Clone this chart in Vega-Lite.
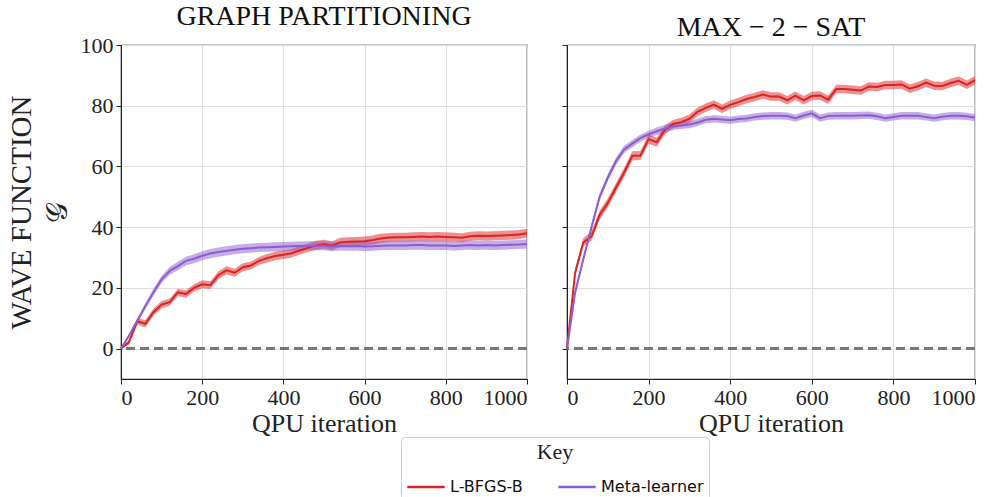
{
  "$schema": "https://vega.github.io/schema/vega-lite/v6.json",
  "padding": {"left": 6, "top": 2, "right": 20, "bottom": 0},
  "background": "white",
  "datasets": {
    "curves": [
      {"task":"GP","method":"L-BFGS-B","iter":0,"value":0,"err":0},
      {"task":"GP","method":"L-BFGS-B","iter":20,"value":2.2,"err":0.8},
      {"task":"GP","method":"L-BFGS-B","iter":40,"value":9.0,"err":1.1},
      {"task":"GP","method":"L-BFGS-B","iter":60,"value":8.2,"err":1.2},
      {"task":"GP","method":"L-BFGS-B","iter":80,"value":12.0,"err":1.2},
      {"task":"GP","method":"L-BFGS-B","iter":100,"value":14.5,"err":1.2},
      {"task":"GP","method":"L-BFGS-B","iter":120,"value":15.3,"err":1.2},
      {"task":"GP","method":"L-BFGS-B","iter":140,"value":18.5,"err":1.2},
      {"task":"GP","method":"L-BFGS-B","iter":160,"value":18.0,"err":1.2},
      {"task":"GP","method":"L-BFGS-B","iter":180,"value":20.0,"err":1.2},
      {"task":"GP","method":"L-BFGS-B","iter":200,"value":21.2,"err":1.3},
      {"task":"GP","method":"L-BFGS-B","iter":220,"value":20.9,"err":1.3},
      {"task":"GP","method":"L-BFGS-B","iter":240,"value":24.2,"err":1.3},
      {"task":"GP","method":"L-BFGS-B","iter":260,"value":25.8,"err":1.3},
      {"task":"GP","method":"L-BFGS-B","iter":280,"value":25.0,"err":1.3},
      {"task":"GP","method":"L-BFGS-B","iter":300,"value":26.8,"err":1.3},
      {"task":"GP","method":"L-BFGS-B","iter":320,"value":27.4,"err":1.3},
      {"task":"GP","method":"L-BFGS-B","iter":340,"value":28.9,"err":1.3},
      {"task":"GP","method":"L-BFGS-B","iter":360,"value":29.8,"err":1.4},
      {"task":"GP","method":"L-BFGS-B","iter":380,"value":30.5,"err":1.4},
      {"task":"GP","method":"L-BFGS-B","iter":400,"value":30.9,"err":1.4},
      {"task":"GP","method":"L-BFGS-B","iter":420,"value":31.4,"err":1.4},
      {"task":"GP","method":"L-BFGS-B","iter":440,"value":32.3,"err":1.4},
      {"task":"GP","method":"L-BFGS-B","iter":460,"value":33.2,"err":1.4},
      {"task":"GP","method":"L-BFGS-B","iter":480,"value":34.0,"err":1.5},
      {"task":"GP","method":"L-BFGS-B","iter":500,"value":34.4,"err":1.5},
      {"task":"GP","method":"L-BFGS-B","iter":520,"value":33.9,"err":1.5},
      {"task":"GP","method":"L-BFGS-B","iter":540,"value":35.0,"err":1.5},
      {"task":"GP","method":"L-BFGS-B","iter":560,"value":35.2,"err":1.5},
      {"task":"GP","method":"L-BFGS-B","iter":580,"value":35.3,"err":1.5},
      {"task":"GP","method":"L-BFGS-B","iter":600,"value":35.4,"err":1.5},
      {"task":"GP","method":"L-BFGS-B","iter":620,"value":35.8,"err":1.5},
      {"task":"GP","method":"L-BFGS-B","iter":640,"value":36.3,"err":1.5},
      {"task":"GP","method":"L-BFGS-B","iter":660,"value":36.6,"err":1.5},
      {"task":"GP","method":"L-BFGS-B","iter":680,"value":36.7,"err":1.5},
      {"task":"GP","method":"L-BFGS-B","iter":700,"value":36.7,"err":1.5},
      {"task":"GP","method":"L-BFGS-B","iter":720,"value":36.8,"err":1.5},
      {"task":"GP","method":"L-BFGS-B","iter":740,"value":36.9,"err":1.5},
      {"task":"GP","method":"L-BFGS-B","iter":760,"value":36.8,"err":1.5},
      {"task":"GP","method":"L-BFGS-B","iter":780,"value":36.9,"err":1.5},
      {"task":"GP","method":"L-BFGS-B","iter":800,"value":36.8,"err":1.5},
      {"task":"GP","method":"L-BFGS-B","iter":820,"value":36.7,"err":1.5},
      {"task":"GP","method":"L-BFGS-B","iter":840,"value":36.5,"err":1.5},
      {"task":"GP","method":"L-BFGS-B","iter":860,"value":37.0,"err":1.5},
      {"task":"GP","method":"L-BFGS-B","iter":880,"value":37.2,"err":1.5},
      {"task":"GP","method":"L-BFGS-B","iter":900,"value":37.1,"err":1.5},
      {"task":"GP","method":"L-BFGS-B","iter":920,"value":37.2,"err":1.5},
      {"task":"GP","method":"L-BFGS-B","iter":940,"value":37.3,"err":1.5},
      {"task":"GP","method":"L-BFGS-B","iter":960,"value":37.4,"err":1.5},
      {"task":"GP","method":"L-BFGS-B","iter":980,"value":37.6,"err":1.5},
      {"task":"GP","method":"L-BFGS-B","iter":1000,"value":38.0,"err":1.5},
      {"task":"GP","method":"Meta-learner","iter":0,"value":0,"err":0},
      {"task":"GP","method":"Meta-learner","iter":20,"value":4.3,"err":0.6},
      {"task":"GP","method":"Meta-learner","iter":40,"value":9.2,"err":0.8},
      {"task":"GP","method":"Meta-learner","iter":60,"value":14.0,"err":1.0},
      {"task":"GP","method":"Meta-learner","iter":80,"value":18.6,"err":1.1},
      {"task":"GP","method":"Meta-learner","iter":100,"value":22.8,"err":1.2},
      {"task":"GP","method":"Meta-learner","iter":120,"value":25.6,"err":1.3},
      {"task":"GP","method":"Meta-learner","iter":140,"value":27.2,"err":1.4},
      {"task":"GP","method":"Meta-learner","iter":160,"value":28.9,"err":1.4},
      {"task":"GP","method":"Meta-learner","iter":180,"value":29.6,"err":1.5},
      {"task":"GP","method":"Meta-learner","iter":200,"value":30.6,"err":1.5},
      {"task":"GP","method":"Meta-learner","iter":220,"value":31.3,"err":1.5},
      {"task":"GP","method":"Meta-learner","iter":240,"value":31.8,"err":1.5},
      {"task":"GP","method":"Meta-learner","iter":260,"value":32.2,"err":1.5},
      {"task":"GP","method":"Meta-learner","iter":280,"value":32.6,"err":1.5},
      {"task":"GP","method":"Meta-learner","iter":300,"value":32.9,"err":1.5},
      {"task":"GP","method":"Meta-learner","iter":320,"value":33.1,"err":1.5},
      {"task":"GP","method":"Meta-learner","iter":340,"value":33.3,"err":1.5},
      {"task":"GP","method":"Meta-learner","iter":360,"value":33.4,"err":1.5},
      {"task":"GP","method":"Meta-learner","iter":380,"value":33.5,"err":1.5},
      {"task":"GP","method":"Meta-learner","iter":400,"value":33.6,"err":1.5},
      {"task":"GP","method":"Meta-learner","iter":420,"value":33.7,"err":1.5},
      {"task":"GP","method":"Meta-learner","iter":440,"value":33.8,"err":1.5},
      {"task":"GP","method":"Meta-learner","iter":460,"value":33.9,"err":1.5},
      {"task":"GP","method":"Meta-learner","iter":480,"value":33.9,"err":1.5},
      {"task":"GP","method":"Meta-learner","iter":500,"value":33.9,"err":1.5},
      {"task":"GP","method":"Meta-learner","iter":520,"value":33.6,"err":1.5},
      {"task":"GP","method":"Meta-learner","iter":540,"value":33.8,"err":1.5},
      {"task":"GP","method":"Meta-learner","iter":560,"value":33.7,"err":1.5},
      {"task":"GP","method":"Meta-learner","iter":580,"value":33.8,"err":1.5},
      {"task":"GP","method":"Meta-learner","iter":600,"value":33.6,"err":1.5},
      {"task":"GP","method":"Meta-learner","iter":620,"value":33.7,"err":1.5},
      {"task":"GP","method":"Meta-learner","iter":640,"value":33.9,"err":1.5},
      {"task":"GP","method":"Meta-learner","iter":660,"value":34.0,"err":1.5},
      {"task":"GP","method":"Meta-learner","iter":680,"value":34.0,"err":1.5},
      {"task":"GP","method":"Meta-learner","iter":700,"value":34.0,"err":1.5},
      {"task":"GP","method":"Meta-learner","iter":720,"value":34.1,"err":1.5},
      {"task":"GP","method":"Meta-learner","iter":740,"value":34.1,"err":1.5},
      {"task":"GP","method":"Meta-learner","iter":760,"value":34.0,"err":1.5},
      {"task":"GP","method":"Meta-learner","iter":780,"value":34.0,"err":1.5},
      {"task":"GP","method":"Meta-learner","iter":800,"value":34.0,"err":1.5},
      {"task":"GP","method":"Meta-learner","iter":820,"value":33.8,"err":1.5},
      {"task":"GP","method":"Meta-learner","iter":840,"value":34.0,"err":1.5},
      {"task":"GP","method":"Meta-learner","iter":860,"value":34.1,"err":1.5},
      {"task":"GP","method":"Meta-learner","iter":880,"value":34.0,"err":1.5},
      {"task":"GP","method":"Meta-learner","iter":900,"value":34.1,"err":1.5},
      {"task":"GP","method":"Meta-learner","iter":920,"value":34.0,"err":1.5},
      {"task":"GP","method":"Meta-learner","iter":940,"value":34.1,"err":1.5},
      {"task":"GP","method":"Meta-learner","iter":960,"value":34.2,"err":1.5},
      {"task":"GP","method":"Meta-learner","iter":980,"value":34.3,"err":1.5},
      {"task":"GP","method":"Meta-learner","iter":1000,"value":34.5,"err":1.5},
      {"task":"SAT","method":"L-BFGS-B","iter":0,"value":0,"err":0},
      {"task":"SAT","method":"L-BFGS-B","iter":20,"value":25.0,"err":1.2},
      {"task":"SAT","method":"L-BFGS-B","iter":40,"value":35.0,"err":1.4},
      {"task":"SAT","method":"L-BFGS-B","iter":60,"value":37.0,"err":1.5},
      {"task":"SAT","method":"L-BFGS-B","iter":80,"value":44.0,"err":1.5},
      {"task":"SAT","method":"L-BFGS-B","iter":100,"value":48.0,"err":1.5},
      {"task":"SAT","method":"L-BFGS-B","iter":120,"value":53.0,"err":1.5},
      {"task":"SAT","method":"L-BFGS-B","iter":140,"value":58.0,"err":1.5},
      {"task":"SAT","method":"L-BFGS-B","iter":160,"value":63.5,"err":1.5},
      {"task":"SAT","method":"L-BFGS-B","iter":180,"value":63.6,"err":1.5},
      {"task":"SAT","method":"L-BFGS-B","iter":200,"value":69.0,"err":1.5},
      {"task":"SAT","method":"L-BFGS-B","iter":220,"value":68.0,"err":1.5},
      {"task":"SAT","method":"L-BFGS-B","iter":240,"value":72.0,"err":1.5},
      {"task":"SAT","method":"L-BFGS-B","iter":260,"value":74.0,"err":1.4},
      {"task":"SAT","method":"L-BFGS-B","iter":280,"value":74.6,"err":1.4},
      {"task":"SAT","method":"L-BFGS-B","iter":300,"value":75.7,"err":1.4},
      {"task":"SAT","method":"L-BFGS-B","iter":320,"value":78.0,"err":1.4},
      {"task":"SAT","method":"L-BFGS-B","iter":340,"value":79.3,"err":1.4},
      {"task":"SAT","method":"L-BFGS-B","iter":360,"value":80.4,"err":1.4},
      {"task":"SAT","method":"L-BFGS-B","iter":380,"value":79.0,"err":1.4},
      {"task":"SAT","method":"L-BFGS-B","iter":400,"value":80.3,"err":1.4},
      {"task":"SAT","method":"L-BFGS-B","iter":420,"value":81.2,"err":1.4},
      {"task":"SAT","method":"L-BFGS-B","iter":440,"value":82.2,"err":1.4},
      {"task":"SAT","method":"L-BFGS-B","iter":460,"value":82.9,"err":1.4},
      {"task":"SAT","method":"L-BFGS-B","iter":480,"value":83.7,"err":1.4},
      {"task":"SAT","method":"L-BFGS-B","iter":500,"value":83.0,"err":1.4},
      {"task":"SAT","method":"L-BFGS-B","iter":520,"value":83.0,"err":1.4},
      {"task":"SAT","method":"L-BFGS-B","iter":540,"value":81.8,"err":1.4},
      {"task":"SAT","method":"L-BFGS-B","iter":560,"value":83.3,"err":1.4},
      {"task":"SAT","method":"L-BFGS-B","iter":580,"value":81.8,"err":1.4},
      {"task":"SAT","method":"L-BFGS-B","iter":600,"value":83.2,"err":1.4},
      {"task":"SAT","method":"L-BFGS-B","iter":620,"value":83.4,"err":1.4},
      {"task":"SAT","method":"L-BFGS-B","iter":640,"value":82.0,"err":1.4},
      {"task":"SAT","method":"L-BFGS-B","iter":660,"value":85.5,"err":1.4},
      {"task":"SAT","method":"L-BFGS-B","iter":680,"value":85.5,"err":1.4},
      {"task":"SAT","method":"L-BFGS-B","iter":700,"value":85.3,"err":1.4},
      {"task":"SAT","method":"L-BFGS-B","iter":720,"value":85.0,"err":1.4},
      {"task":"SAT","method":"L-BFGS-B","iter":740,"value":86.3,"err":1.4},
      {"task":"SAT","method":"L-BFGS-B","iter":760,"value":86.2,"err":1.4},
      {"task":"SAT","method":"L-BFGS-B","iter":780,"value":86.8,"err":1.4},
      {"task":"SAT","method":"L-BFGS-B","iter":800,"value":86.8,"err":1.4},
      {"task":"SAT","method":"L-BFGS-B","iter":820,"value":87.0,"err":1.4},
      {"task":"SAT","method":"L-BFGS-B","iter":840,"value":85.6,"err":1.4},
      {"task":"SAT","method":"L-BFGS-B","iter":860,"value":86.4,"err":1.4},
      {"task":"SAT","method":"L-BFGS-B","iter":880,"value":87.6,"err":1.4},
      {"task":"SAT","method":"L-BFGS-B","iter":900,"value":86.6,"err":1.4},
      {"task":"SAT","method":"L-BFGS-B","iter":920,"value":86.5,"err":1.4},
      {"task":"SAT","method":"L-BFGS-B","iter":940,"value":87.5,"err":1.4},
      {"task":"SAT","method":"L-BFGS-B","iter":960,"value":88.2,"err":1.4},
      {"task":"SAT","method":"L-BFGS-B","iter":980,"value":86.9,"err":1.4},
      {"task":"SAT","method":"L-BFGS-B","iter":1000,"value":88.4,"err":1.4},
      {"task":"SAT","method":"Meta-learner","iter":0,"value":0,"err":0},
      {"task":"SAT","method":"Meta-learner","iter":20,"value":18.5,"err":0.8},
      {"task":"SAT","method":"Meta-learner","iter":40,"value":29.5,"err":1.0},
      {"task":"SAT","method":"Meta-learner","iter":60,"value":40.0,"err":1.1},
      {"task":"SAT","method":"Meta-learner","iter":80,"value":50.0,"err":1.2},
      {"task":"SAT","method":"Meta-learner","iter":100,"value":56.3,"err":1.2},
      {"task":"SAT","method":"Meta-learner","iter":120,"value":61.7,"err":1.2},
      {"task":"SAT","method":"Meta-learner","iter":140,"value":65.6,"err":1.2},
      {"task":"SAT","method":"Meta-learner","iter":160,"value":67.5,"err":1.2},
      {"task":"SAT","method":"Meta-learner","iter":180,"value":69.3,"err":1.2},
      {"task":"SAT","method":"Meta-learner","iter":200,"value":70.6,"err":1.2},
      {"task":"SAT","method":"Meta-learner","iter":220,"value":71.6,"err":1.2},
      {"task":"SAT","method":"Meta-learner","iter":240,"value":72.5,"err":1.2},
      {"task":"SAT","method":"Meta-learner","iter":260,"value":73.2,"err":1.2},
      {"task":"SAT","method":"Meta-learner","iter":280,"value":73.5,"err":1.2},
      {"task":"SAT","method":"Meta-learner","iter":300,"value":73.8,"err":1.2},
      {"task":"SAT","method":"Meta-learner","iter":320,"value":74.5,"err":1.2},
      {"task":"SAT","method":"Meta-learner","iter":340,"value":75.4,"err":1.2},
      {"task":"SAT","method":"Meta-learner","iter":360,"value":75.7,"err":1.2},
      {"task":"SAT","method":"Meta-learner","iter":380,"value":75.5,"err":1.2},
      {"task":"SAT","method":"Meta-learner","iter":400,"value":75.2,"err":1.2},
      {"task":"SAT","method":"Meta-learner","iter":420,"value":75.6,"err":1.2},
      {"task":"SAT","method":"Meta-learner","iter":440,"value":75.8,"err":1.2},
      {"task":"SAT","method":"Meta-learner","iter":460,"value":76.3,"err":1.2},
      {"task":"SAT","method":"Meta-learner","iter":480,"value":76.6,"err":1.2},
      {"task":"SAT","method":"Meta-learner","iter":500,"value":76.7,"err":1.2},
      {"task":"SAT","method":"Meta-learner","iter":520,"value":76.7,"err":1.2},
      {"task":"SAT","method":"Meta-learner","iter":540,"value":76.6,"err":1.2},
      {"task":"SAT","method":"Meta-learner","iter":560,"value":75.9,"err":1.2},
      {"task":"SAT","method":"Meta-learner","iter":580,"value":76.8,"err":1.2},
      {"task":"SAT","method":"Meta-learner","iter":600,"value":77.5,"err":1.2},
      {"task":"SAT","method":"Meta-learner","iter":620,"value":75.9,"err":1.2},
      {"task":"SAT","method":"Meta-learner","iter":640,"value":76.6,"err":1.2},
      {"task":"SAT","method":"Meta-learner","iter":660,"value":76.7,"err":1.2},
      {"task":"SAT","method":"Meta-learner","iter":680,"value":76.7,"err":1.2},
      {"task":"SAT","method":"Meta-learner","iter":700,"value":76.7,"err":1.2},
      {"task":"SAT","method":"Meta-learner","iter":720,"value":76.8,"err":1.2},
      {"task":"SAT","method":"Meta-learner","iter":740,"value":76.9,"err":1.2},
      {"task":"SAT","method":"Meta-learner","iter":760,"value":76.5,"err":1.2},
      {"task":"SAT","method":"Meta-learner","iter":780,"value":75.9,"err":1.2},
      {"task":"SAT","method":"Meta-learner","iter":800,"value":76.3,"err":1.2},
      {"task":"SAT","method":"Meta-learner","iter":820,"value":76.7,"err":1.2},
      {"task":"SAT","method":"Meta-learner","iter":840,"value":76.7,"err":1.2},
      {"task":"SAT","method":"Meta-learner","iter":860,"value":76.7,"err":1.2},
      {"task":"SAT","method":"Meta-learner","iter":880,"value":76.3,"err":1.2},
      {"task":"SAT","method":"Meta-learner","iter":900,"value":75.9,"err":1.2},
      {"task":"SAT","method":"Meta-learner","iter":920,"value":76.4,"err":1.2},
      {"task":"SAT","method":"Meta-learner","iter":940,"value":76.7,"err":1.2},
      {"task":"SAT","method":"Meta-learner","iter":960,"value":76.7,"err":1.2},
      {"task":"SAT","method":"Meta-learner","iter":980,"value":76.5,"err":1.2},
      {"task":"SAT","method":"Meta-learner","iter":1000,"value":76.1,"err":1.2}
    ]
  },
  "data": {"name": "curves"},
  "spacing": 28,
  "hconcat": [
    {
      "width": 406,
      "height": 334,
      "title": {"text": "GRAPH PARTITIONING"},
      "transform": [{"filter": "datum.task === 'GP'"}],
      "layer": [
        {
          "mark": {"type": "errorband", "opacity": 0.5},
          "encoding": {
            "x": {"field": "iter", "type": "quantitative", "scale": {"domain": [0, 1000], "nice": false},
                  "axis": {"title": "QPU iteration", "values": [0, 200, 400, 600, 800, 1000], "format": "d"}},
            "y": {"field": "value", "type": "quantitative", "scale": {"domain": [-10, 100], "nice": false},
                  "axis": {"title": ["WAVE FUNCTION", "𝒢"], "values": [0, 20, 40, 60, 80, 100], "format": "d"}},
            "yError": {"field": "err"},
            "color": {"field": "method", "type": "nominal", "title": "Key",
                      "scale": {"domain": ["L-BFGS-B", "Meta-learner"], "range": ["#dc2222", "#8c5cd0"]},
                      "legend": {"symbolType": "stroke", "symbolOpacity": 1, "orient": "none", "legendX": 280, "legendY": 392, "direction": "horizontal"}}
          }
        },
        {
          "mark": {"type": "line", "strokeWidth": 2},
          "encoding": {
            "x": {"field": "iter", "type": "quantitative"},
            "y": {"field": "value", "type": "quantitative"},
            "color": {"field": "method", "type": "nominal", "title": "Key",
                      "legend": {"symbolType": "stroke", "symbolOpacity": 1, "orient": "none", "legendX": 280, "legendY": 392, "direction": "horizontal"}}
          }
        },
        {
          "mark": {"type": "rule", "color": "#777777", "strokeWidth": 2.5, "strokeDash": [9, 5]},
          "encoding": {"y": {"datum": 0}}
        }
      ]
    },
    {
      "width": 408,
      "height": 334,
      "title": {"text": "MAX − 2 − SAT"},
      "transform": [{"filter": "datum.task === 'SAT'"}],
      "layer": [
        {
          "mark": {"type": "errorband", "opacity": 0.5},
          "encoding": {
            "x": {"field": "iter", "type": "quantitative", "scale": {"domain": [0, 1000], "nice": false},
                  "axis": {"title": "QPU iteration", "values": [0, 200, 400, 600, 800, 1000], "format": "d"}},
            "y": {"field": "value", "type": "quantitative", "scale": {"domain": [-10, 100], "nice": false},
                  "axis": {"title": null, "labels": false, "values": [0, 20, 40, 60, 80, 100]}},
            "yError": {"field": "err"},
            "color": {"field": "method", "type": "nominal", "title": "Key",
                      "scale": {"domain": ["L-BFGS-B", "Meta-learner"], "range": ["#dc2222", "#8c5cd0"]},
                      "legend": {"symbolType": "stroke", "symbolOpacity": 1, "orient": "none", "legendX": 280, "legendY": 392, "direction": "horizontal"}}
          }
        },
        {
          "mark": {"type": "line", "strokeWidth": 2},
          "encoding": {
            "x": {"field": "iter", "type": "quantitative"},
            "y": {"field": "value", "type": "quantitative"},
            "color": {"field": "method", "type": "nominal", "title": "Key",
                      "legend": {"symbolType": "stroke", "symbolOpacity": 1, "orient": "none", "legendX": 280, "legendY": 392, "direction": "horizontal"}}
          }
        },
        {
          "mark": {"type": "rule", "color": "#777777", "strokeWidth": 2.5, "strokeDash": [9, 5]},
          "encoding": {"y": {"datum": 0}}
        }
      ]
    }
  ],
  "config": {
    "view": {"stroke": "#222222", "strokeWidth": 1.2},
    "title": {"font": "Liberation Serif", "fontSize": 28, "fontWeight": "normal", "color": "#111111", "offset": 3},
    "axis": {
      "labelFont": "Liberation Serif", "labelFontSize": 22, "labelColor": "#222222",
      "titleFont": "Liberation Serif", "titleFontSize": 26, "titleFontWeight": "normal", "titleColor": "#222222",
      "domainColor": "#222222", "tickColor": "#222222", "tickSize": 5,
      "gridColor": "#dddddd", "gridWidth": 1, "labelPadding": 3, "titlePadding": 2
    },
    "axisY": {"titleFontSize": 29, "titlePadding": 8, "titleLineHeight": 36},
    "legend": {
      "titleAnchor": "middle",
      "titleFont": "Liberation Serif", "titleFontSize": 22, "titleFontWeight": "normal", "titleColor": "#222222",
      "titlePadding": 3,
      "labelFont": "DejaVu Sans", "labelFontSize": 16, "labelColor": "#111111",
      "symbolType": "stroke", "symbolSize": 1400, "symbolStrokeWidth": 2.5, "symbolOpacity": 1,
      "columnPadding": 30, "strokeColor": "#cccccc", "padding": 5, "cornerRadius": 4
    }
  }
}
